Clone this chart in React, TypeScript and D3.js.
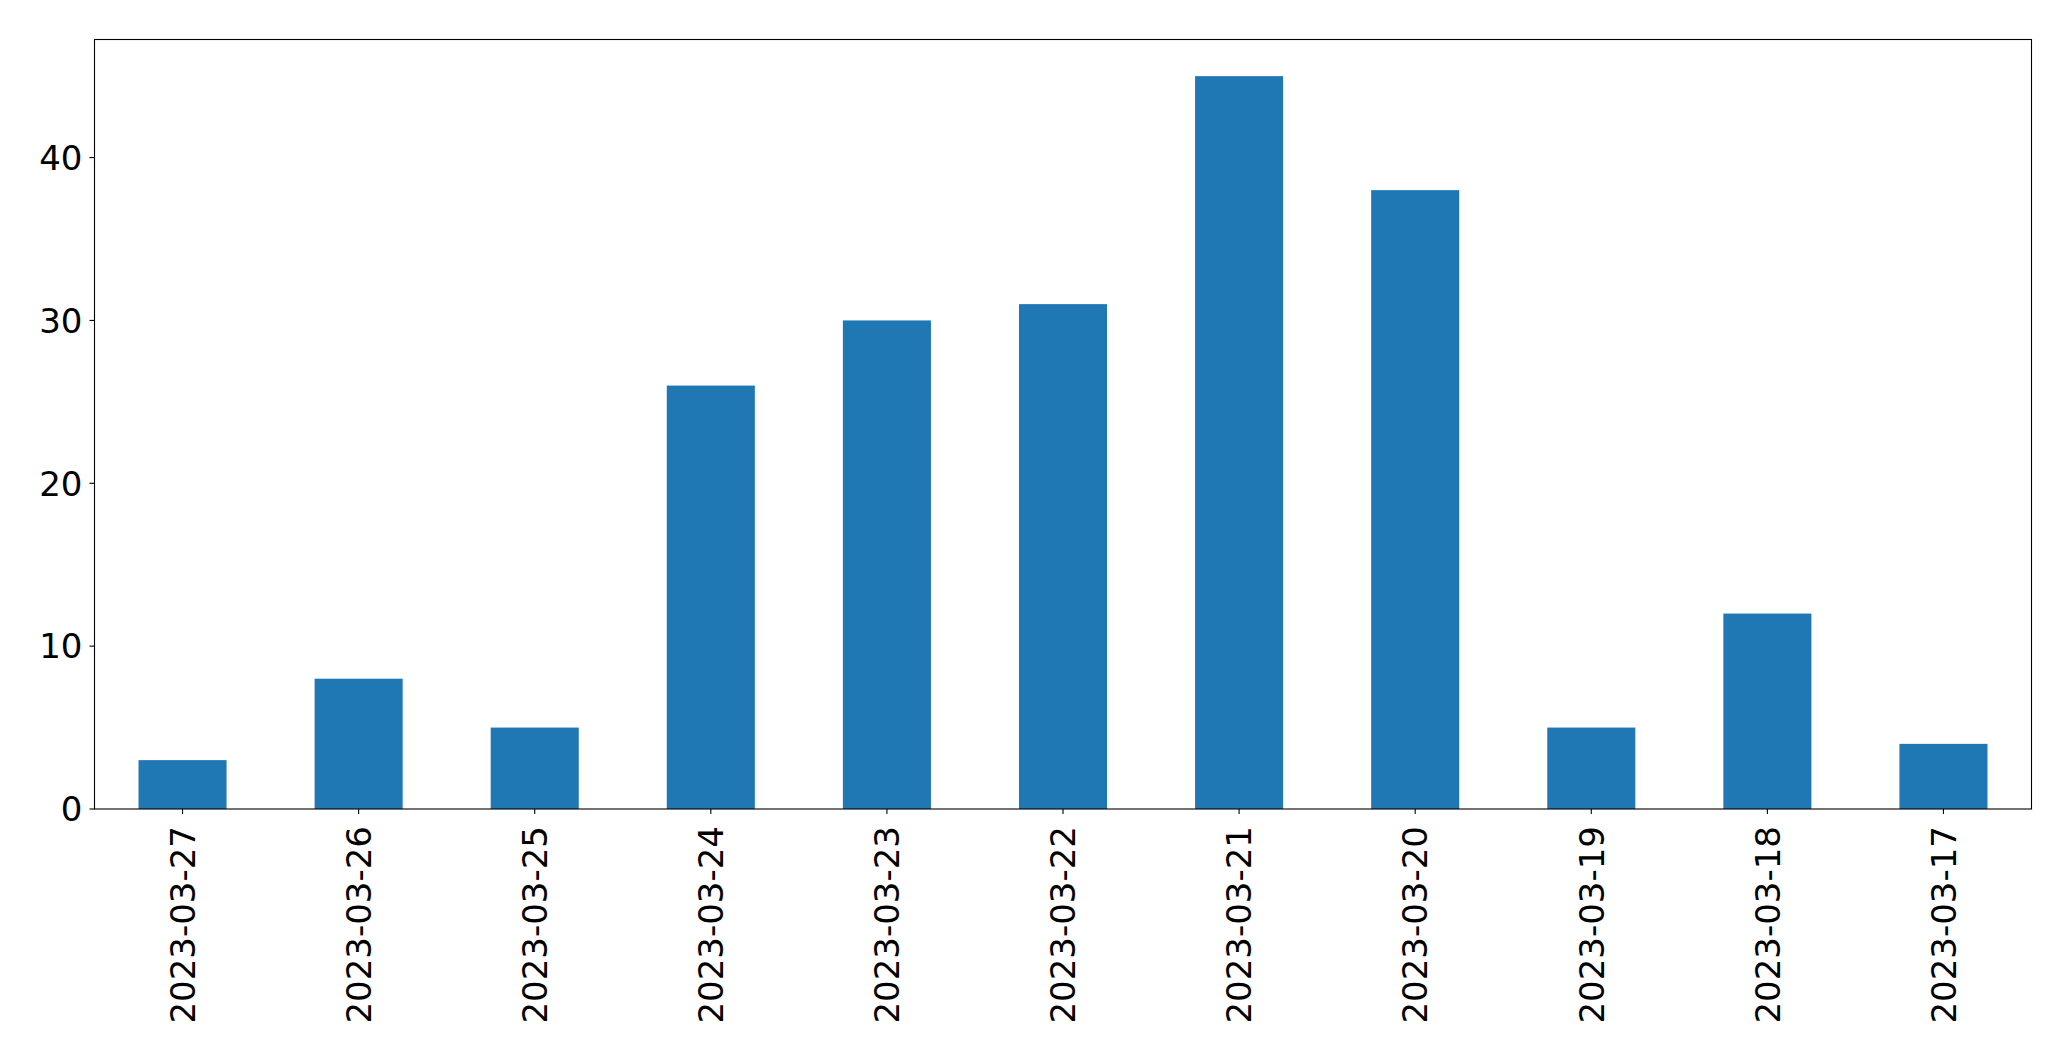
import React from "react";
import * as d3 from "d3";

const categories = ["2023-03-27","2023-03-26","2023-03-25","2023-03-24","2023-03-23","2023-03-22","2023-03-21","2023-03-20","2023-03-19","2023-03-18","2023-03-17"];
const values = [3, 8, 5, 26, 30, 31, 45, 38, 5, 12, 4];
const yTicks = [0, 10, 20, 30, 40];

const W = 2071, H = 1061;
const left = 94.5, right = 2031.5, top = 39.5, bottom = 809;
const FONT = "'DejaVu Sans', sans-serif";

export default function App() {
  const x = d3.scaleBand<string>().domain(categories).range([left, right]).paddingInner(0.5).paddingOuter(0.25);
  const yMax = d3.max(values)! * 1.05;
  const y = d3.scaleLinear().domain([0, yMax]).range([bottom, top]);
  return (
    <svg width={W} height={H} style={{ position: "absolute", left: 0, top: 0, background: "#fff" }} fontFamily={FONT}>
      <rect x={0} y={0} width={W} height={H} fill="#fff" />
      {categories.map((c, i) => (
        <rect key={c} x={x(c)!} y={y(values[i])} width={x.bandwidth()} height={y(0) - y(values[i])} fill="#1f77b4" />
      ))}
      <rect x={left} y={top} width={right - left} height={bottom - top} fill="none" stroke="#000" strokeWidth={1.1} />
      {yTicks.map(t => (
        <g key={t}>
          <line x1={left - 5} x2={left} y1={y(t)} y2={y(t)} stroke="#000" strokeWidth={1.1} />
          <text x={left - 12} y={y(t)} dy="0.36em" textAnchor="end" fontSize={34} fill="#000">{t}</text>
        </g>
      ))}
      {categories.map(c => {
        const cx = x(c)! + x.bandwidth() / 2;
        return (
          <g key={c}>
            <line x1={cx} x2={cx} y1={bottom} y2={bottom + 5} stroke="#000" strokeWidth={1.1} />
            <text transform={`translate(${cx},${bottom + 17}) rotate(-90)`} dy="0.36em" textAnchor="end" fontSize={34} fill="#000">{c}</text>
          </g>
        );
      })}
    </svg>
  );
}
